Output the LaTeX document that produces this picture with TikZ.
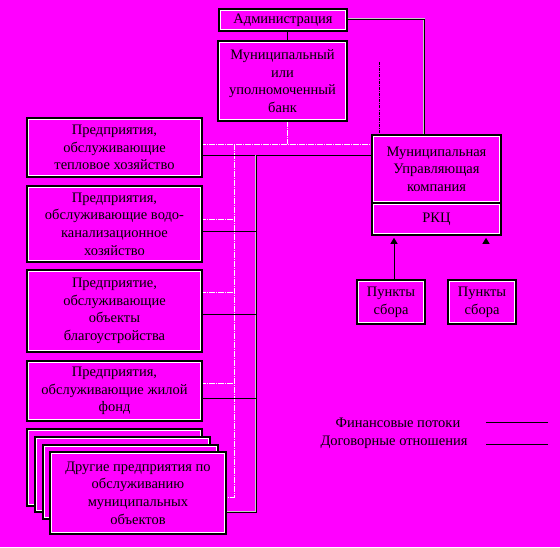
\documentclass[tikz,border=0pt]{standalone}
\usepackage{fontspec}
\setmainfont{Liberation Serif}
\usetikzlibrary{arrows.meta,calc}
\definecolor{bg}{RGB}{255,0,255}
\definecolor{hl}{RGB}{200,200,200}
\tikzset{
  bx/.style={draw=black, fill=bg, line width=2.8pt, align=center, inner sep=1pt,
    font=\fontsize{14.5}{17.6}\selectfont,
    path picture={\draw[white, line width=4pt] (path picture bounding box.south west) rectangle (path picture bounding box.north east);}},
  conn/.style={draw=black, line width=0.9pt},
  vconn/.style={draw=black, line width=0.9pt, preaction={draw=hl, line width=2.4pt}},
  wdd/.style={draw=white, line width=1pt, dash pattern=on 6pt off 1pt on 1pt off 1pt},
  kdd/.style={draw=black, line width=0.8pt, dash pattern=on 3pt off 1.2pt on 0.8pt off 1.2pt},
  arr/.style={draw=black, line width=0.9pt, -{Triangle[length=6pt,width=7pt]}},
  lg/.style={font=\fontsize{14.5}{17.6}\selectfont, inner sep=0pt}
}
\begin{document}
\begin{tikzpicture}[x=1pt,y=-1pt]
\fill[bg] (0,0) rectangle (560,547);
\useasboundingbox (0,0) rectangle (560,547);

% connectors first (behind boxes)
% admin - bank
\coordinate (ab) at (287,20);
\draw[conn] (ab) -- (ab |- 0,40);
% admin - company
\draw[vconn] (348,19) -| (424,136);
% dash-dot black to company
\coordinate (dd) at (379,62);
\draw[kdd] (dd) -- (dd |- 0,136);

% white dash-dot network
\coordinate (wv) at (234,144);
\draw[wdd] (200,144) -- (373,144);
\draw[wdd] (287,121) -- (287,144);
\draw[wdd] (wv) -- (wv |- 0,497) -- (225,497);
\draw[wdd] (200,219) -- (wv |- 0,219);
\draw[wdd] (200,292) -- (wv |- 0,292);
\draw[wdd] (200,383) -- (wv |- 0,383);

% black network
\coordinate (kv) at (256,155);
\draw[conn] (200,155) -- (373,155);
\draw[vconn] (kv) -- (kv |- 0,512) -- (225,512);
\draw[conn] (200,231) -- (kv |- 0,231);
\draw[conn] (200,314) -- (kv |- 0,314);
\draw[conn] (200,398) -- (kv |- 0,398);

% boxes
\node[bx, minimum width=128pt, minimum height=22pt] (admin) at (283,20) {Администрация};
\node[bx, minimum width=129pt, minimum height=80pt] (bank) at (282.5,81) {Муниципальный\\или\\уполномоченный\\банк};
\node[bx, minimum width=175pt, minimum height=59pt] (b1) at (114.5,147.5) {Предприятия,\\обслуживающие\\тепловое хозяйство};
\node[bx, minimum width=175pt, minimum height=76pt] (b2) at (114.5,224) {Предприятия,\\обслуживающие водо-\\канализационное\\хозяйство};
\node[bx, minimum width=175pt, minimum height=82pt] (b3) at (114.5,311) {Предприятие,\\обслуживающие\\объекты\\благоустройства};
\node[bx, minimum width=175pt, minimum height=60pt] (b4) at (114.5,391) {Предприятия,\\обслуживающие жилой\\фонд};
\node[bx, minimum width=175pt, minimum height=77pt] (s1) at (114.5,467.5) {};
\node[bx, minimum width=175pt, minimum height=75pt] (s2) at (122.5,474.5) {};
\node[bx, minimum width=175pt, minimum height=74pt] (s3) at (130.5,482) {};
\node[bx, minimum width=176pt, minimum height=82pt] (s4) at (138,493) {Другие предприятия по\\обслуживанию\\муниципальных\\объектов};
\node[bx, minimum width=129pt, minimum height=68pt] (muk) at (436.5,169) {Муниципальная\\Управляющая\\компания};
\node[bx, minimum width=129pt, minimum height=32pt] (rkc) at (436.5,219) {РКЦ};
\node[bx, minimum width=68pt, minimum height=44pt] (p1) at (391,302) {Пункты\\сбора};
\node[bx, minimum width=68pt, minimum height=44pt] (p2) at (482,302) {Пункты\\сбора};

% arrows
\draw[arr] ([xshift=3pt]p1.north) -- ([xshift=3pt,yshift=-1.4pt]p1.north |- rkc.south);
\coordinate (a2) at (486,243);
\draw[arr] (a2) -- ([yshift=-1.4pt]a2 |- rkc.south);

% legend
\node[lg] (l1) at (398,423) {Финансовые потоки};
\node[lg] (l2) at (394,442) {Договорные отношения};
\coordinate (l1a) at (486,422); \coordinate (l1b) at (548,422);
\coordinate (l2a) at (486,444.5); \coordinate (l2b) at (548,444.5);
\draw[black, line width=1pt] (l1a) -- (l1b);
\draw[black, line width=1pt] (l2a) -- (l2b);
\end{tikzpicture}
\end{document}
